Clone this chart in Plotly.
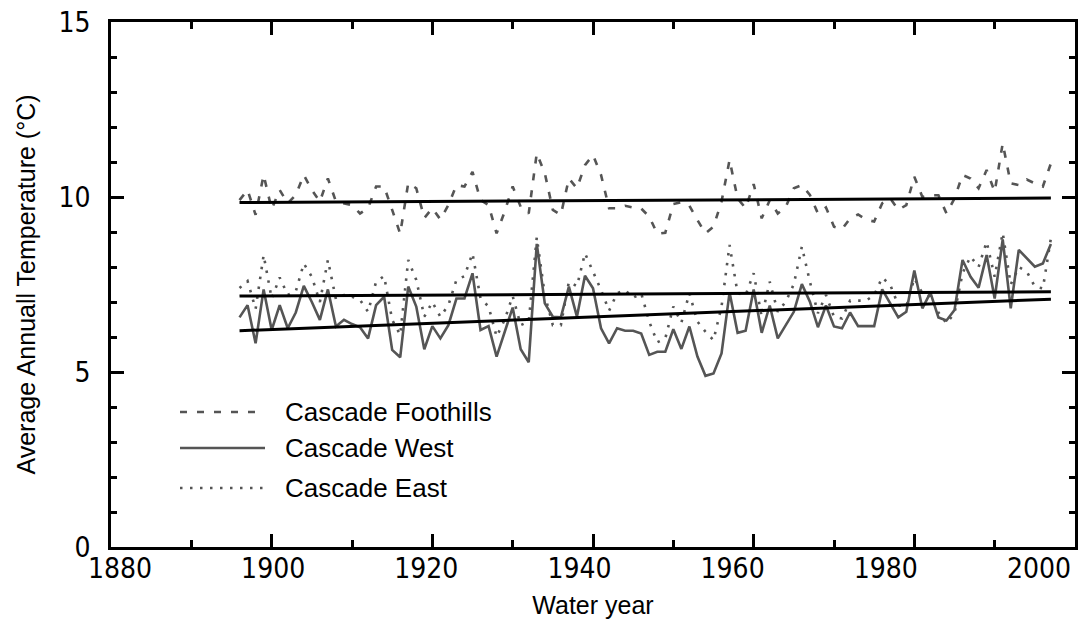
import plotly.graph_objects as go

# ---------------- data ----------------
years = list(range(1896, 1998))

cascade_foothills = [
    9.91, 10.20, 9.49, 10.63, 9.65, 10.20, 9.82, 10.06, 10.63, 10.20,
    9.87, 10.53, 9.87, 9.82, 9.77, 9.53, 9.68, 10.30, 10.30, 9.63,
    8.95, 10.40, 10.25, 9.40, 9.68, 9.36, 9.77, 10.34, 10.30, 10.72,
    9.91, 9.77, 8.96, 9.58, 10.30, 9.72, 9.53, 11.25, 10.68, 9.63,
    9.49, 10.53, 10.25, 10.91, 11.20, 10.63, 9.68, 9.68, 9.75, 9.70,
    9.67, 9.44, 8.95, 8.98, 9.80, 9.85, 9.75, 9.34, 8.96, 9.15,
    9.87, 11.06, 9.96, 9.68, 10.37, 9.39, 9.91, 9.53, 9.72, 10.25,
    10.34, 10.06, 9.53, 9.70, 9.15, 9.08, 9.39, 9.50, 9.35, 9.30,
    9.82, 9.96, 9.63, 9.77, 10.58, 10.00, 10.05, 10.05, 9.53, 9.96,
    10.63, 10.53, 10.25, 10.77, 10.15, 11.53, 10.39, 10.34, 10.50, 10.39,
    10.30, 10.96,
]

cascade_west = [
    6.56, 6.91, 5.82, 7.36, 6.20, 6.91, 6.25, 6.70, 7.46, 7.00,
    6.49, 7.36, 6.30, 6.49, 6.37, 6.28, 5.96, 6.91, 7.15, 5.63,
    5.42, 7.44, 6.87, 5.65, 6.31, 5.96, 6.34, 7.10, 7.10, 7.82,
    6.20, 6.31, 5.44, 6.12, 6.84, 5.65, 5.28, 8.66, 6.96, 6.58,
    6.56, 7.44, 6.58, 7.75, 7.39, 6.25, 5.82, 6.25, 6.18, 6.18,
    6.10, 5.49, 5.58, 5.58, 6.22, 5.66, 6.30, 5.44, 4.89, 4.96,
    5.53, 7.27, 6.12, 6.18, 7.36, 6.12, 6.90, 5.96, 6.34, 6.72,
    7.51, 7.01, 6.28, 6.90, 6.30, 6.25, 6.70, 6.31, 6.31, 6.31,
    7.36, 6.96, 6.56, 6.72, 7.90, 6.82, 7.27, 6.56, 6.47, 6.77,
    8.20, 7.72, 7.41, 8.34, 7.10, 8.79, 6.82, 8.49, 8.25, 8.01,
    8.10, 8.66,
]

cascade_east = [
    7.40, 7.60, 6.80, 8.34, 7.10, 7.70, 7.20, 7.30, 8.10, 7.72,
    7.00, 8.20, 7.08, 7.20, 7.15, 7.06, 6.72, 7.58, 7.74, 6.49,
    6.06, 8.20, 7.63, 6.58, 7.00, 6.58, 6.91, 7.63, 7.74, 8.39,
    7.10, 6.87, 6.01, 6.49, 7.17, 6.34, 6.44, 8.85, 7.20, 6.34,
    6.34, 7.58, 7.45, 8.39, 7.87, 7.34, 6.75, 7.25, 7.34, 7.12,
    7.25, 6.44, 5.85, 5.96, 6.87, 6.41, 7.25, 6.44, 6.15, 5.91,
    6.87, 8.63, 7.25, 7.20, 7.82, 6.58, 7.58, 6.72, 7.01, 7.51,
    8.58, 7.58, 6.68, 7.20, 6.58, 6.53, 7.04, 7.04, 7.04, 7.20,
    7.70, 7.49, 6.91, 6.87, 7.68, 7.25, 7.15, 6.70, 6.39, 6.68,
    7.82, 8.30, 8.00, 8.72, 7.72, 8.98, 7.50, 8.00, 7.87, 7.44,
    7.39, 8.82,
]

trend_years = [1896, 1997]
trend_foothills = [9.84, 9.97]
trend_west = [6.18, 7.08]
trend_east = [7.17, 7.29]

series_names = ["Cascade Foothills", "Cascade West", "Cascade East"]
x_tick_values = [1880, 1900, 1920, 1940, 1960, 1980, 2000]
x_tick_labels = ["1880", "1900", "1920", "1940", "1960", "1980", "2000"]
y_tick_values = [0, 5, 10, 15]
y_tick_labels = ["0", "5", "10", "15"]

# ---------------- styling ----------------
SERIES_COLOR = "#555555"
TICK_FONT = dict(family="Liberation Sans Narrow, Arial Narrow, DejaVu Sans Condensed, Liberation Sans, sans-serif",
                 size=28, color="black")
TITLE_FONT = dict(family="Liberation Sans, Arial, sans-serif", size=25, color="black")
LEGEND_FONT = dict(family="Liberation Sans, Arial, sans-serif", size=26, color="black")
DASHES = ["7px,10px", "solid", "2.5px,7.5px"]

fig = go.Figure()

series_values = [cascade_foothills, cascade_west, cascade_east]
for name, vals, dash in zip(series_names, series_values, DASHES):
    fig.add_trace(go.Scatter(x=years, y=vals, mode="lines", name=name,
                             line=dict(color=SERIES_COLOR, width=2.6, dash=dash),
                             showlegend=False))

for tr in (trend_foothills, trend_east, trend_west):
    fig.add_trace(go.Scatter(x=trend_years, y=tr, mode="lines",
                             line=dict(color="black", width=3),
                             showlegend=False, hoverinfo="skip"))

# empty helper trace so the label axis (x2) is laid out and drawn
fig.add_trace(go.Scatter(x=x_tick_values, y=[None] * len(x_tick_values), xaxis="x2", yaxis="y",
                         mode="lines", showlegend=False, hoverinfo="skip"))

# ---------------- hand-made legend (long line samples) ----------------
L, R, T, B = 111, 1075, 22, 547
def px_x(p):
    return (p - L) / (R - L)
def px_y(p):
    return (B - p) / (B - T)

legend_rows = [412, 448, 488]
for name, dash, row in zip(series_names, DASHES, legend_rows):
    fig.add_shape(type="line", xref="paper", yref="paper",
                  x0=px_x(180), x1=px_x(265), y0=px_y(row), y1=px_y(row),
                  line=dict(color=SERIES_COLOR, width=2.6, dash=dash))
    fig.add_annotation(xref="paper", yref="paper", x=px_x(283), y=px_y(row),
                       text=name, showarrow=False, xanchor="left", yanchor="middle",
                       font=LEGEND_FONT)

axis_common = dict(showgrid=False, zeroline=False, automargin=False)

fig.update_layout(
    width=1080, height=630,
    margin=dict(l=L, r=1080 - R, t=T, b=630 - B),
    plot_bgcolor="white", paper_bgcolor="white",
    showlegend=False,
    xaxis=dict(range=[1880, 2000], tickmode="linear", tick0=1880, dtick=20,
               ticks="inside", ticklen=13, tickwidth=2.5, tickcolor="black",
               showticklabels=False,
               showline=True, linewidth=2.5, linecolor="black", mirror="ticks",
               minor=dict(tickmode="linear", tick0=1880, dtick=10, ticks="inside",
                          ticklen=7, tickwidth=2.5, tickcolor="black", showgrid=False),
               **axis_common),
    xaxis2=dict(overlaying="x", anchor="y", side="bottom",
                range=[1878.825, 2004.71],
                tickmode="array", tickvals=x_tick_values, ticktext=x_tick_labels,
                ticks="", showline=False, tickfont=TICK_FONT,
                ticklabelstandoff=2,
                title=dict(text="Water year", font=TITLE_FONT, standoff=12),
                **axis_common),
    yaxis=dict(range=[0, 15], tickmode="array", tickvals=y_tick_values, ticktext=y_tick_labels,
               ticks="inside", ticklen=13, tickwidth=2.5, tickcolor="black",
               showline=True, linewidth=2.5, linecolor="black", mirror="ticks",
               minor=dict(tickmode="linear", tick0=0, dtick=1, ticks="inside",
                          ticklen=6, tickwidth=2.5, tickcolor="black", showgrid=False),
               tickfont=TICK_FONT, ticklabelstandoff=12,
               title=dict(text="Average Annuall Temperature (°C)", font=TITLE_FONT, standoff=16),
               **axis_common),
)

fig.write_html("out.html")
